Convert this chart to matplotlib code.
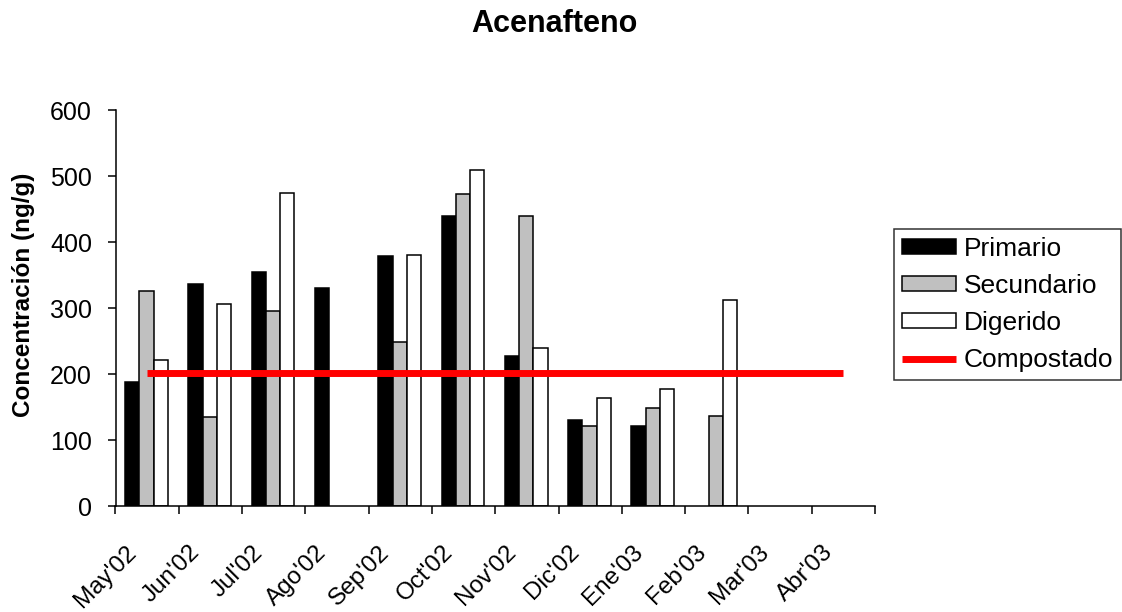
import numpy as np
import matplotlib
matplotlib.use("Agg")
import matplotlib.pyplot as plt
import matplotlib.transforms as mtransforms

plt.rcParams['font.family'] = ['Liberation Sans', 'DejaVu Sans']

#------------------DATA------------------#
meses = ["May'02", "Jun'02", "Jul'02", "Ago'02", "Sep'02", "Oct'02",
         "Nov'02", "Dic'02", "Ene'03", "Feb'03", "Mar'03", "Abr'03"]
nan = np.nan
primario = [188, 336, 354, 330, 379, 439, 227, 130, 121, nan, nan, nan]
secundario = [326, 135, 296, nan, 248, 473, 439, 121, 148, 136, nan, nan]
digerido = [221, 306, 475, nan, 381, 509, 239, 163, 178, 312, nan, nan]
compostado = [202, 202, 202, 202, 202, 202, 202, 202, 202, 202, 202, 202]

#------------------PLOT------------------#
fig = plt.figure(figsize=(11.22, 6.12), dpi=100)
ax = fig.add_axes([115.5 / 1122, 1 - 506 / 612, (875 - 115.5) / 1122, (506 - 110) / 612])

x = np.arange(len(meses))
w = 0.225
b1 = ax.bar(x - w - 0.01, primario, w, color='black', edgecolor='black', linewidth=1.1, label='Primario')
b2 = ax.bar(x - 0.01, secundario, w, color='#C0C0C0', edgecolor='black', linewidth=1.1, label='Secundario')
b3 = ax.bar(x + w - 0.01, digerido, w, color='white', edgecolor='black', linewidth=1.1, label='Digerido')
l1, = ax.plot(x, compostado, color='#FF0000', linewidth=5, solid_capstyle='butt', label='Compostado', zorder=5)

ax.set_xlim(-0.5, len(meses) - 0.5)
ax.set_ylim(0, 600)
ax.set_yticks(range(0, 601, 100))

# ticks on category boundaries, labels on centres
ax.set_xticks(np.arange(len(meses) + 1) - 0.5)
ax.set_xticklabels([])
ax.set_xticks(x, minor=True)
ax.set_xticklabels(meses, minor=True, rotation=45, ha='right', va='center',
                   rotation_mode='anchor', fontsize=17.5)
ax.tick_params(axis='x', which='minor', length=0, pad=31)
ax.tick_params(axis='both', which='major', direction='out', length=6, width=1.1,
               labelsize=18, color='black')
ax.tick_params(axis='y', pad=11)
off = mtransforms.ScaledTranslation(-14 / 100, 0, fig.dpi_scale_trans)
for lbl in ax.get_xticklabels(minor=True):
    lbl.set_transform(lbl.get_transform() + off)

for s in ['top', 'right']:
    ax.spines[s].set_visible(False)
for s in ['left', 'bottom']:
    ax.spines[s].set_linewidth(1.1)

fig.text(554.5 / 1122, 1 - 24 / 612, 'Acenafteno', ha='center', va='center',
         fontsize=22, fontweight='bold')
fig.text(23.5 / 1122, 1 - 294.5 / 612, 'Concentración (ng/g)', rotation=90,
         ha='center', va='center', fontsize=17.5, fontweight='bold')

leg = ax.legend([b1, b2, b3, l1], ['Primario', 'Secundario', 'Digerido', 'Compostado'],
                loc='upper left', bbox_to_anchor=(894 / 1122, 1 - 229 / 612),
                bbox_transform=fig.transFigure, fontsize=19, frameon=True,
                fancybox=False, shadow=False, borderaxespad=0, borderpad=0.3,
                handlelength=2.05, handleheight=0.5, handletextpad=0.3,
                labelspacing=0.5)
leg.get_frame().set_edgecolor('black')
leg.get_frame().set_linewidth(1.1)

fig.savefig('out.png', dpi=100)
